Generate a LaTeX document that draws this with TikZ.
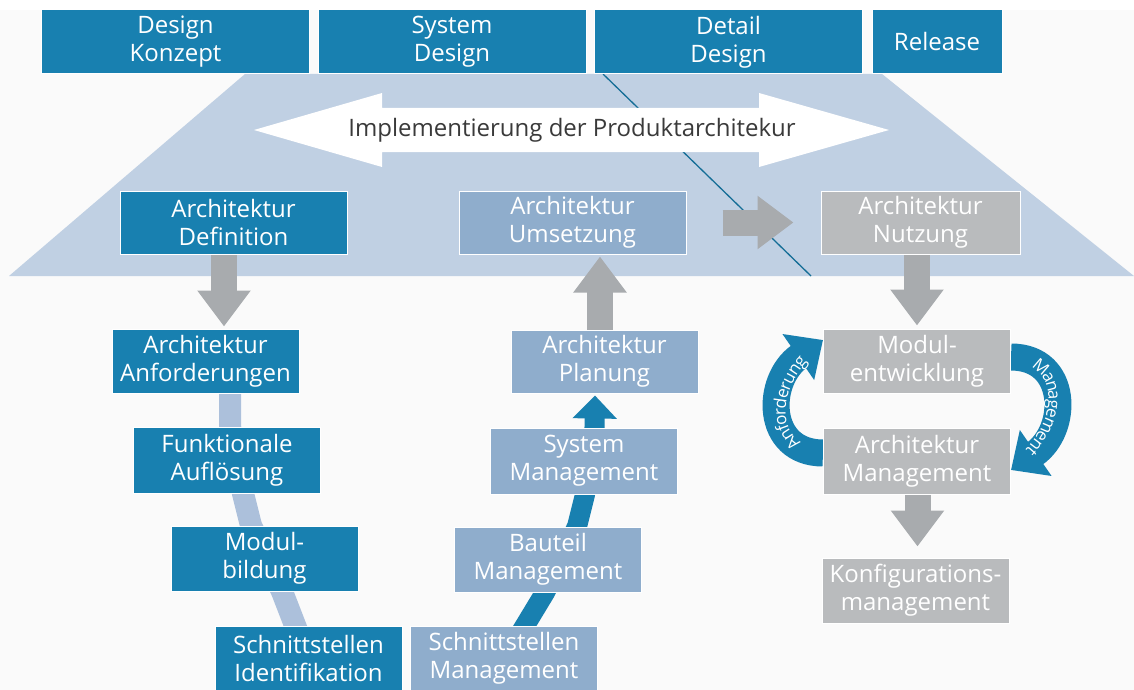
\documentclass[tikz,border=0pt]{standalone}
\usepackage{fontspec}
\setmainfont{Open Sans}
\usetikzlibrary{arrows.meta, backgrounds, decorations.text}

\definecolor{phaseblue}{RGB}{24,128,176}
\definecolor{planeblue}{RGB}{192,208,227}
\definecolor{steelblue}{RGB}{143,173,204}
\definecolor{boxgrey}{RGB}{185,187,189}
\definecolor{arrowgrey}{RGB}{168,171,174}
\definecolor{bandblue}{RGB}{172,192,219}
\definecolor{textgrey}{RGB}{58,58,58}
\definecolor{paper}{RGB}{250,250,250}

\newcommand{\boxfont}{\fontsize{24}{28}\selectfont}
\newcommand{\loopfont}{\fontsize{17}{20}\selectfont}

\begin{document}
\begin{tikzpicture}[
    x=1pt, y=-1pt,
    every node/.style={font=\boxfont},
    block/.style={rectangle, inner sep=0pt, align=center, text=white, draw=white, line width=1pt},
    phasebox/.style={block, fill=phaseblue, minimum width=268pt, minimum height=64pt},
    tealbox/.style={block, fill=phaseblue, minimum width=187pt, minimum height=64pt},
    steelbox/.style={block, fill=steelblue, minimum width=187pt, minimum height=64pt},
    greybox/.style={block, fill=boxgrey, minimum width=187pt, minimum height=64pt},
    greyarrow/.style={draw=arrowgrey, line width=26pt, -{Triangle[length=36pt, width=51pt]}},
    bluearrow/.style={draw=phaseblue, line width=20pt, line join=round, -{Triangle[length=23pt, width=43pt]}},
    looparrow/.style={draw=phaseblue, line width=27pt, -{Triangle[length=30pt, width=54pt]}},
    bandline/.style={draw=bandblue, line width=22pt, line join=round},
    looptext/.style={decorate, decoration={text along path, text align=center, text color=white, raise=-6pt}}
]
\useasboundingbox (0,0) rectangle (1134,690);

% Backdrop: paper, phase plane, boundary line, double arrow
\begin{scope}[on background layer]
    \fill[paper] (0,10) rectangle (1134,690);
    \fill[planeblue] (245,74) -- (882,74) -- (1134,276) -- (9,276) -- cycle;
    \draw[phaseblue!85!black, line width=1.3pt] (603,74) -- (811,276);
    \fill[white] (254,130) -- (382,93) -- (382,108) -- (759,108) -- (759,93) -- (889,130)
                 -- (759,167) -- (759,152) -- (382,152) -- (382,167) -- cycle;
\end{scope}

% Phases
\node[phasebox] (konzept)   at (175.5, 42) {Design\\Konzept};
\node[phasebox] (sysdesign) at (452, 42)   {System\\Design};
\node[phasebox] (detail)    at (728.5, 42) {Detail\\Design};
\node[phasebox, minimum width=130pt] (release) at (937, 42) {Release};

\node[text=textgrey] (impl) at (572, 130) {Implementierung der Produktarchitekur};

% Architecture stages
\node[tealbox, minimum width=227pt, minimum height=63pt]  (archdef)  at (233.5, 222.5) {Architektur\\Definition};
\node[steelbox, minimum width=227pt, minimum height=63pt] (archums)  at (572.5, 222.5) {Architektur\\Umsetzung};
\node[greybox, minimum width=199pt, minimum height=63pt]  (archnutz) at (920.5, 222.5) {Architektur\\Nutzung};

% Definition branch
\node[tealbox] (archanf) at (205.5, 361) {Architektur\\Anforderungen};
\node[tealbox, minimum height=66pt] (funkauf) at (227, 460) {Funktionale\\Auflösung};
\node[tealbox, minimum height=65pt] (modbild) at (264.5, 558.5) {Modul-\\bildung};
\node[tealbox] (schnid)  at (308.5, 658) {Schnittstellen\\Identifikation};

% Umsetzung branch
\node[steelbox, minimum height=63pt] (archplan) at (604.5, 361.5) {Architektur\\Planung};
\node[steelbox, minimum height=66pt] (sysmgmt)  at (584, 461)     {System\\Management};
\node[steelbox, minimum height=65pt] (bauteil)  at (548, 559.5)   {Bauteil\\Management};
\node[steelbox] (schnmgmt) at (504, 658) {Schnittstellen\\Management};

% Nutzung branch
\node[greybox] (modentw)  at (917, 361)     {Modul-\\entwicklung};
\node[greybox, minimum height=66pt] (archmgmt) at (917, 461) {Architektur\\Management};
\node[greybox, minimum height=65pt] (konfig)   at (915.5, 590.5) {Konfigurations-\\management};

% Connectors, kept behind the boxes
\begin{scope}[on background layer]
    \draw[bandline] ([xshift=24.5pt]archanf.south) -- ([xshift=3pt]funkauf.north)
        -- ([xshift=16pt]funkauf.south) -- ([xshift=-13.5pt]modbild.north)
        -- ([xshift=17.5pt]modbild.south) -- ([xshift=-9.5pt, yshift=-10pt]schnid.north);

    \draw[bluearrow, shorten >=2pt] ([xshift=15pt, yshift=-10pt]schnmgmt.north) -- ([xshift=-3pt]bauteil.south)
        -- ([xshift=29pt]bauteil.north) -- ([xshift=1pt]sysmgmt.south)
        -- ([xshift=10.5pt]sysmgmt.north) -- ([xshift=-9.5pt]archplan.south);

    \draw[greyarrow, shorten >=2pt] ([xshift=-9.5pt]archdef.south) -- ([xshift=18.5pt]archanf.north);
    \draw[greyarrow, shorten >=2pt] ([xshift=-4.5pt]archplan.north) -- ([xshift=27.5pt]archums.south);
    \draw[greyarrow] ([xshift=36pt]archums.east) -- ([xshift=-27pt]archnutz.west);
    \draw[greyarrow, shorten >=3pt] ([xshift=-3.5pt]archnutz.south) -- (modentw.north);
    \draw[greyarrow, shorten >=11pt] ([xshift=0.5pt]archmgmt.south) -- ([xshift=2pt]konfig.north);

    % Loop between Modulentwicklung and Architektur Management
    \draw[looparrow] ([yshift=8pt]archmgmt.west) .. controls +(-58,0) and +(-58,40) .. ([yshift=21pt]modentw.west);
    \draw[looparrow] ([yshift=4pt]modentw.east) .. controls +(58,0) and +(58,-40) .. ([yshift=-9pt]archmgmt.east);
\end{scope}

\path[looptext, decoration={text={|\loopfont|Anforderung}}]
    ([yshift=8pt]archmgmt.west) .. controls +(-58,0) and +(-58,40) .. ([yshift=21pt]modentw.west);
\path[looptext, decoration={text={|\loopfont|Management}}]
    ([yshift=4pt]modentw.east) .. controls +(58,0) and +(58,-40) .. ([yshift=-9pt]archmgmt.east);

\end{tikzpicture}
\end{document}
